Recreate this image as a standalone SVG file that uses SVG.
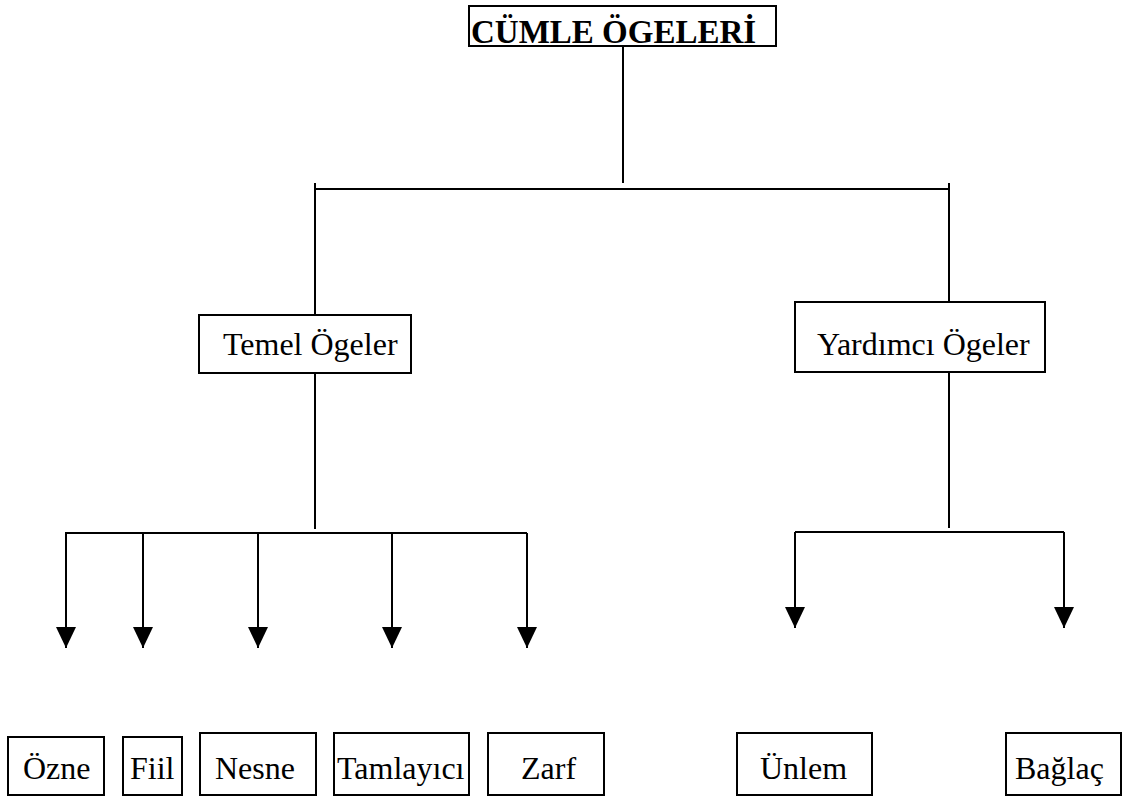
<svg xmlns="http://www.w3.org/2000/svg" width="1127" height="796" viewBox="0 0 1127 796">
<style>
.box{fill:#fff;stroke:#000;stroke-width:2}
text{font-family:'Liberation Serif','DejaVu Serif',serif;font-size:32px;fill:#000}
.b{font-weight:bold;font-size:33px}
.c{stroke:#000;stroke-width:2;fill:none}
</style>
<defs>
<marker id="ah" markerUnits="userSpaceOnUse" viewBox="0 0 20 21" refX="10" refY="21" markerWidth="20" markerHeight="21" orient="0">
<path d="M0,0 L20,0 L10,21 Z" fill="#000"/>
</marker>
</defs>
<rect width="1127" height="796" fill="#fff"/>
<g id="connectors">
<line class="c" x1="623" y1="46" x2="623" y2="183"/>
<line class="c" x1="315" y1="189" x2="949" y2="189"/>
<line class="c" x1="315" y1="183" x2="315" y2="315"/>
<line class="c" x1="949" y1="183" x2="949" y2="302"/>
<line class="c" x1="315" y1="373" x2="315" y2="529"/>
<line class="c" x1="65" y1="533" x2="527" y2="533"/>
<line class="c" x1="66" y1="533" x2="66" y2="648" marker-end="url(#ah)"/>
<line class="c" x1="143" y1="533" x2="143" y2="648" marker-end="url(#ah)"/>
<line class="c" x1="258" y1="533" x2="258" y2="648" marker-end="url(#ah)"/>
<line class="c" x1="392" y1="533" x2="392" y2="648" marker-end="url(#ah)"/>
<line class="c" x1="527" y1="533" x2="527" y2="648" marker-end="url(#ah)"/>
<line class="c" x1="949" y1="372" x2="949" y2="528"/>
<line class="c" x1="795" y1="532" x2="1064" y2="532"/>
<line class="c" x1="795" y1="532" x2="795" y2="628" marker-end="url(#ah)"/>
<line class="c" x1="1064" y1="532" x2="1064" y2="628" marker-end="url(#ah)"/>
</g>
<g id="cumle-ogeleri">
<rect class="box" x="469" y="6" width="307" height="40"/>
<text class="b" x="471" y="43">CÜMLE ÖGELERİ</text>
</g>
<g id="temel-ogeler">
<rect class="box" x="199" y="315" width="212" height="58"/>
<text x="223" y="355">Temel Ögeler</text>
</g>
<g id="yardimci-ogeler">
<rect class="box" x="795" y="302" width="250" height="70"/>
<text x="817" y="355">Yardımcı Ögeler</text>
</g>
<g id="ozne">
<rect class="box" x="8" y="737" width="96" height="58"/>
<text x="23" y="779">Özne</text>
</g>
<g id="fiil">
<rect class="box" x="123" y="737" width="59" height="58"/>
<text x="130" y="779">Fiil</text>
</g>
<g id="nesne">
<rect class="box" x="200" y="733" width="116" height="62"/>
<text x="215" y="779">Nesne</text>
</g>
<g id="tamlayici">
<rect class="box" x="334" y="733" width="135" height="62"/>
<text x="337" y="779">Tamlayıcı</text>
</g>
<g id="zarf">
<rect class="box" x="488" y="733" width="116" height="62"/>
<text x="521" y="779">Zarf</text>
</g>
<g id="unlem">
<rect class="box" x="737" y="733" width="135" height="62"/>
<text x="760" y="779">Ünlem</text>
</g>
<g id="baglac">
<rect class="box" x="1006" y="733" width="115" height="62"/>
<text x="1015" y="779">Bağlaç</text>
</g>
</svg>
